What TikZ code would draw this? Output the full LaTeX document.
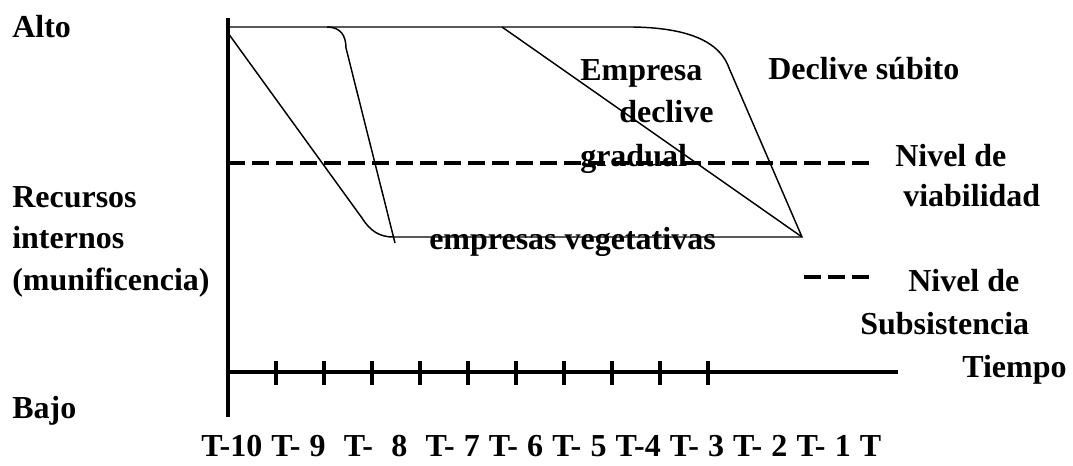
\documentclass[tikz,border=0pt]{standalone}
\usepackage{fontspec}
\setmainfont{Liberation Serif}
\usetikzlibrary{positioning, calc}

\begin{document}
\begin{tikzpicture}[x=0.75pt, y=-0.75pt,
    lbl/.style={anchor=base west, inner sep=0pt, font=\fontsize{24}{28}\selectfont\bfseries},
    thinln/.style={line width=1.1pt},
    axisln/.style={line width=2.3pt},
    dashln/.style={line width=2.6pt, dash pattern=on 12.75pt off 5.25pt}]
  \useasboundingbox (0,0) rectangle (1073,465);
  \coordinate (origTop) at (228,18);
  \coordinate (origBot) at (228,417);
  \coordinate (tAxis) at (228,372);
  \coordinate (tEnd) at (898,372);
  \coordinate (hiL) at (228,27);
  \coordinate (hiR) at (633,27);
  \coordinate (subKnee) at (729,68);
  \coordinate (lowR) at (802,237);
  \coordinate (lowL) at (393,237);
  \coordinate (vegKnee) at (362,218);
  \coordinate (vegTop) at (228,33);
  \coordinate (fastTop) at (327,27);
  \coordinate (fastKnee) at (346,48);
  \coordinate (fastEnd) at (395,243);
  \coordinate (gradTop) at (502,27);
  \coordinate (viaL) at (228,163);
  \coordinate (viaR) at (873,163);
  \coordinate (subsL) at (804,277);
  \coordinate (subsR) at (871,277);

  \draw[axisln] (origTop) -- (origBot);
  \draw[axisln] (tAxis) -- (tEnd);
  \foreach \k in {0,...,9}
    \draw[axisln] ({276+48*\k},361) -- ++(0,24);

  \draw[thinln] (hiL) -- (hiR) .. controls (700,28) and (722,48) .. (subKnee)
    -- (lowR) -- (lowL) .. controls (380,237) and (370,231) .. (vegKnee) -- (vegTop);
  \draw[thinln] (fastTop) .. controls (340,27) and (346,35) .. (fastKnee) -- (fastEnd);
  \draw[thinln] (gradTop) -- (lowR);

  \draw[dashln] (viaL) -- (viaR);
  \draw[dashln] (subsL) -- (subsR);

  \node[lbl] (alto) at (12,37) {Alto};
  \node[lbl] (rec1) at (12,207) {Recursos};
  \node[lbl] (rec2) at (12,248) {internos};
  \node[lbl] (rec3) at (12,290) {(munificencia)};
  \node[lbl] (bajo) at (12,418) {Bajo};
  \node[lbl] (emp1) at (580,80) {Empresa};
  \node[lbl] (emp2) at (619,122) {declive};
  \node[lbl] (emp3) at (580,166) {gradual};
  \node[lbl] (subito) at (768,79) {Declive súbito};
  \node[lbl] (via1) at (895,166) {Nivel de};
  \node[lbl] (via2) at (903,206) {viabilidad};
  \node[lbl] (veget) at (429,249) {empresas vegetativas};
  \node[lbl] (subs1) at (908,291) {Nivel de};
  \node[lbl] (subs2) at (860,334) {Subsistencia};
  \node[lbl] (tiempo) at (962,377) {Tiempo};
  \node[lbl] (tiempos) at (201,456) {\makebox[510pt][s]{T-10 T- 9\ \ T-\ \ 8\ \ T- 7 T- 6 T- 5 T-4 T- 3 T- 2 T- 1 T}};
\end{tikzpicture}
\end{document}
